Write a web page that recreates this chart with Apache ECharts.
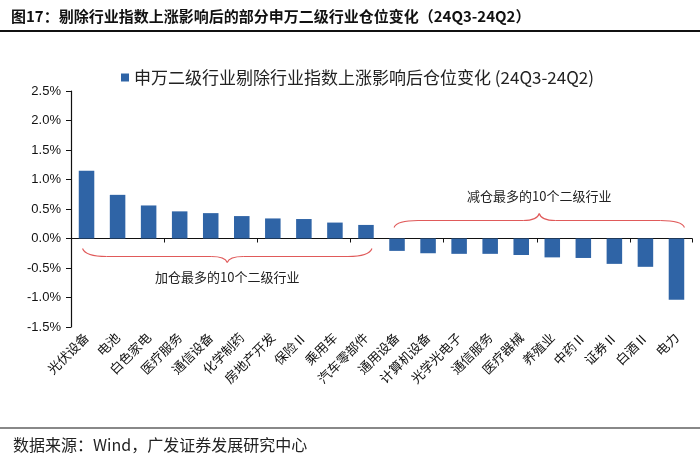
<!DOCTYPE html>
<html>
<head>
<meta charset="utf-8">
<script src="https://cdn.jsdelivr.net/npm/echarts@6/dist/echarts.min.js"></script>
<style>
  html, body { margin: 0; padding: 0; background: #fff; }
  #chart { width: 700px; height: 457px; }
</style>
</head>
<body>
<div id="chart"></div>
<script>
// 数据（单位：%）
const industries = ['光伏设备', '电池', '白色家电', '医疗服务', '通信设备', '化学制药', '房地产开发', '保险Ⅱ', '乘用车', '汽车零部件',
  '通用设备', '计算机设备', '光学光电子', '通信服务', '医疗器械', '养殖业', '中药Ⅱ', '证券Ⅱ', '白酒Ⅱ', '电力']
const changes = [1.15, 0.74, 0.56, 0.46, 0.43, 0.38, 0.34, 0.33, 0.27, 0.23,
  -0.21, -0.25, -0.26, -0.26, -0.28, -0.32, -0.33, -0.43, -0.48, -1.04]
const seriesName = '申万二级行业剔除行业指数上涨影响后仓位变化 (24Q3-24Q2)'
const titleText = '图17：剔除行业指数上涨影响后的部分申万二级行业仓位变化（24Q3-24Q2）'
const sourceText = '数据来源：Wind，广发证券发展研究中心'
const addLabel = '加仓最多的10个二级行业'
const cutLabel = '减仓最多的10个二级行业'

const cjk = 'Noto Sans CJK SC'
const chart = echarts.init(document.getElementById('chart'))

const option = {
  backgroundColor: '#fff',
  animation: false,
  title: [
    {
      text: titleText,
      left: 6,
      top: 4,
      textStyle: {fontFamily: cjk, fontSize: 15, fontWeight: 'bold', color: '#111'}
    },
    {
      text: sourceText,
      left: 8,
      top: 432,
      textStyle: {fontFamily: cjk, fontSize: 16, fontWeight: 'normal', color: '#222'}
    }
  ],
  legend: {
    top: 64,
    left: 116,
    icon: 'rect',
    itemWidth: 8,
    itemHeight: 8,
    itemGap: 6,
    textStyle: {fontFamily: cjk, fontSize: 17, color: '#222'}
  },
  grid: {left: 71, right: 8, top: 91, bottom: 130, containLabel: false},
  xAxis: [
    {
      type: 'category',
      data: industries,
      axisLine: {onZero: true, lineStyle: {color: '#111', width: 1.2}},
      axisTick: {show: true, length: 4, lineStyle: {color: '#111'}},
      axisLabel: {show: false}
    },
    {
      type: 'category',
      position: 'bottom',
      data: industries,
      axisLine: {show: false, onZero: false},
      axisTick: {show: false},
      axisLabel: {
        interval: 0,
        rotate: 45,
        margin: 8,
        fontFamily: cjk,
        fontSize: 13,
        color: '#111'
      }
    }
  ],
  yAxis: {
    type: 'value',
    min: -1.5,
    max: 2.5,
    interval: 0.5,
    splitLine: {show: false},
    axisLine: {show: true, lineStyle: {color: '#111', width: 1.2}},
    axisTick: {show: true, length: 5, lineStyle: {color: '#111'}},
    axisLabel: {
      margin: 10,
      fontFamily: 'Liberation Sans',
      fontSize: 13,
      color: '#111',
      formatter: v => v.toFixed(1) + '%'
    }
  },
  series: [
    {
      name: seriesName,
      type: 'bar',
      xAxisIndex: 0,
      data: changes,
      barWidth: '50%',
      itemStyle: {color: '#2f64a6'}
    }
  ],
  graphic: [
    {type: 'line', shape: {x1: 0, y1: 31, x2: 700, y2: 31}, style: {stroke: '#111', lineWidth: 2}},
    {type: 'line', shape: {x1: 0, y1: 428, x2: 700, y2: 428}, style: {stroke: '#888', lineWidth: 2}}
  ]
}
chart.setOption(option)

// 大括号注释：位置由坐标轴换算
const braceStyle = {stroke: '#e05a5a', lineWidth: 1.1, fill: null}
function curve(x1, y1, cx, cy, x2, y2) {
  return {type: 'bezierCurve', shape: {x1: x1, y1: y1, x2: x2, y2: y2, cpx1: cx, cpy1: cy}, style: braceStyle}
}
function brace(xa, xb, yEnd, yFlat, yTip) {
  const mid = (xa + xb) / 2
  const r = 24, t = 16
  return [
    curve(xa, yEnd, xa + 3, yFlat, xa + r, yFlat),
    {type: 'line', shape: {x1: xa + r, y1: yFlat, x2: mid - t, y2: yFlat}, style: braceStyle},
    curve(mid - t, yFlat, mid - 2, yFlat, mid, yTip),
    curve(mid, yTip, mid + 2, yFlat, mid + t, yFlat),
    {type: 'line', shape: {x1: mid + t, y1: yFlat, x2: xb - r, y2: yFlat}, style: braceStyle},
    curve(xb - r, yFlat, xb - 3, yFlat, xb, yEnd)
  ]
}
const px = i => chart.convertToPixel({xAxisIndex: 0}, industries[i])
const zeroY = chart.convertToPixel({yAxisIndex: 0}, 0)
const a0 = px(0) - 4, a1 = px(9) + 6
const b0 = px(10) - 3, b1 = px(19) + 8
chart.setOption({
  graphic: option.graphic
    .concat(brace(a0, a1, zeroY + 10, zeroY + 18, zeroY + 24))
    .concat(brace(b0, b1, zeroY - 11, zeroY - 18, zeroY - 25))
    .concat([
      {type: 'text', x: (a0 + a1) / 2, y: zeroY + 39,
        style: {text: addLabel, fontFamily: cjk, fontSize: 13, fill: '#222', align: 'center', verticalAlign: 'middle'}},
      {type: 'text', x: (b0 + b1) / 2, y: zeroY - 42,
        style: {text: cutLabel, fontFamily: cjk, fontSize: 13, fill: '#222', align: 'center', verticalAlign: 'middle'}}
    ])
})
</script>
</body>
</html>
